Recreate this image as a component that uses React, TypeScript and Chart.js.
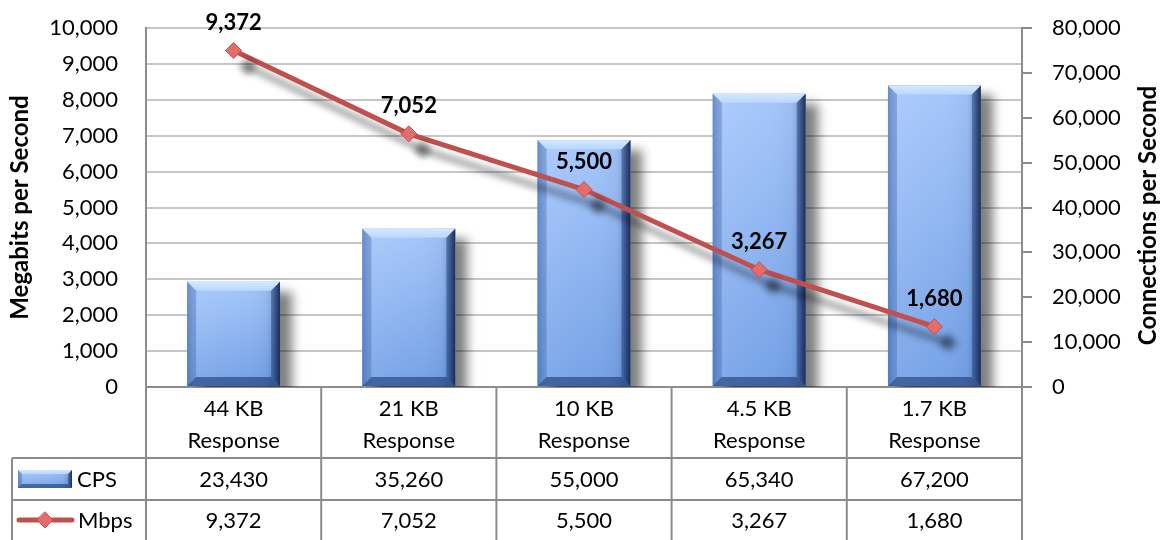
import React, { useEffect, useRef } from 'react';
import { Chart, registerables } from 'chart.js';

Chart.register(...registerables);

const categories: string[][] = [
  ['44 KB', 'Response'],
  ['21 KB', 'Response'],
  ['10 KB', 'Response'],
  ['4.5 KB', 'Response'],
  ['1.7 KB', 'Response'],
];
const cpsValues = [23430, 35260, 55000, 65340, 67200];
const mbpsValues = [9372, 7052, 5500, 3267, 1680];
const seriesNames = ['CPS', 'Mbps'];
const leftAxisTitle = 'Megabits per Second';
const rightAxisTitle = 'Connections per Second';
const leftMax = 10000;
const leftStep = 1000;
const rightMax = 80000;
const rightStep = 10000;

const FONT = 'Lato, "Open Sans", sans-serif';
const fmt = (v: number) => v.toLocaleString('en-US');

function drawBevelBar(ctx: CanvasRenderingContext2D, x0: number, y0: number, x1: number, y1: number, bMax = 9) {
  const w = x1 - x0;
  const h = y1 - y0;
  if (w <= 0 || h <= 0) return;
  const b = Math.min(bMax, w / 4, h / 4);
  let g = ctx.createLinearGradient(0, y0, 0, y1);
  g.addColorStop(0, '#a6c7fb');
  g.addColorStop(1, '#74a1e6');
  ctx.fillStyle = g;
  ctx.fillRect(x0, y0, w, h);
  g = ctx.createLinearGradient(x0, 0, x1, 0);
  g.addColorStop(0, 'rgba(40,80,150,0.30)');
  g.addColorStop(0.12, 'rgba(255,255,255,0.08)');
  g.addColorStop(0.5, 'rgba(255,255,255,0.02)');
  g.addColorStop(0.85, 'rgba(20,50,110,0.06)');
  g.addColorStop(1, 'rgba(20,40,90,0.35)');
  ctx.fillStyle = g;
  ctx.fillRect(x0, y0, w, h);
  // top bevel
  ctx.beginPath();
  ctx.moveTo(x0, y0);
  ctx.lineTo(x1, y0);
  ctx.lineTo(x1 - b, y0 + b);
  ctx.lineTo(x0 + b, y0 + b);
  ctx.closePath();
  g = ctx.createLinearGradient(0, y0, 0, y0 + b);
  g.addColorStop(0, '#d6e8ff');
  g.addColorStop(1, '#b8d6ff');
  ctx.fillStyle = g;
  ctx.fill();
  // left bevel
  ctx.beginPath();
  ctx.moveTo(x0, y0);
  ctx.lineTo(x0 + b, y0 + b);
  ctx.lineTo(x0 + b, y1 - b);
  ctx.lineTo(x0, y1);
  ctx.closePath();
  ctx.fillStyle = 'rgba(50,90,165,0.32)';
  ctx.fill();
  // right bevel
  ctx.beginPath();
  ctx.moveTo(x1, y0);
  ctx.lineTo(x1 - b, y0 + b);
  ctx.lineTo(x1 - b, y1 - b);
  ctx.lineTo(x1, y1);
  ctx.closePath();
  g = ctx.createLinearGradient(x1 - b, 0, x1, 0);
  g.addColorStop(0, 'rgba(30,60,120,0.45)');
  g.addColorStop(1, 'rgba(15,30,70,0.85)');
  ctx.fillStyle = g;
  ctx.fill();
  // bottom bevel
  ctx.beginPath();
  ctx.moveTo(x0, y1);
  ctx.lineTo(x0 + b, y1 - b);
  ctx.lineTo(x1 - b, y1 - b);
  ctx.lineTo(x1, y1);
  ctx.closePath();
  ctx.fillStyle = 'rgba(20,45,105,0.55)';
  ctx.fill();
}

const effectsPlugin = {
  id: 'effects',
  beforeDatasetDraw(chart: any, args: any) {
    const ctx = chart.ctx;
    ctx.save();
    if (args.meta.type === 'bar') {
      ctx.shadowColor = 'rgba(0,0,0,0.5)';
      ctx.shadowBlur = 10;
      ctx.shadowOffsetX = 12;
      ctx.shadowOffsetY = 10;
    } else {
      ctx.shadowColor = 'rgba(0,0,0,0.45)';
      ctx.shadowBlur = 7;
      ctx.shadowOffsetX = 14;
      ctx.shadowOffsetY = 16;
    }
  },
  afterDatasetDraw(chart: any, args: any) {
    const ctx = chart.ctx;
    ctx.restore();
    if (args.meta.type === 'bar') {
      ctx.save();
      args.meta.data.forEach((el: any) => {
        const p = el.getProps(['x', 'y', 'width', 'base'], true);
        drawBevelBar(ctx, p.x - p.width / 2, p.y, p.x + p.width / 2, p.base);
      });
      ctx.restore();
    }
  },
  afterDatasetsDraw(chart: any) {
    const ctx = chart.ctx;
    const meta = chart.getDatasetMeta(1);
    ctx.save();
    ctx.font = `bold 22px ${FONT}`;
    ctx.fillStyle = '#000';
    ctx.textAlign = 'center';
    ctx.textBaseline = 'alphabetic';
    meta.data.forEach((pt: any, i: number) => {
      ctx.fillText(fmt(mbpsValues[i]), pt.x, pt.y - 21);
    });
    ctx.restore();
  },
};

const tablePlugin = {
  id: 'dataTable',
  afterDraw(chart: any) {
    const { ctx, chartArea, scales } = chart;
    const xs = scales.x;
    const n = categories.length;
    const cw = (chartArea.right - chartArea.left) / n;
    const bounds: number[] = [];
    for (let i = 0; i < n; i++) bounds.push(xs.getPixelForValue(i) - cw / 2);
    bounds.push(xs.getPixelForValue(n - 1) + cw / 2);
    const top = chartArea.bottom;
    const r1 = 458;
    const r2 = 500;
    const bottom = chart.height;
    const legendLeft = 12;
    ctx.save();
    ctx.strokeStyle = '#8c8c8c';
    ctx.lineWidth = 2;
    ctx.beginPath();
    bounds.forEach((bx) => {
      ctx.moveTo(bx, top);
      ctx.lineTo(bx, bottom);
    });
    ctx.moveTo(legendLeft, r1);
    ctx.lineTo(bounds[n], r1);
    ctx.moveTo(legendLeft, r2);
    ctx.lineTo(bounds[n], r2);
    ctx.moveTo(legendLeft, r1);
    ctx.lineTo(legendLeft, bottom);
    ctx.stroke();

    ctx.font = `22px ${FONT}`;
    ctx.fillStyle = '#000';
    ctx.textAlign = 'center';
    ctx.textBaseline = 'middle';
    for (let i = 0; i < n; i++) {
      const cx = xs.getPixelForValue(i);
      ctx.fillText(fmt(cpsValues[i]), cx, (r1 + r2) / 2 + 1);
      ctx.fillText(fmt(mbpsValues[i]), cx, (r2 + bottom) / 2 + 1);
    }
    // legend keys
    drawBevelBar(ctx, 18, 470, 72, 488, 4);
    ctx.textAlign = 'left';
    ctx.fillStyle = '#000';
    ctx.fillText(seriesNames[0], 77, (r1 + r2) / 2 + 1);
    ctx.strokeStyle = '#c0504d';
    ctx.lineWidth = 5;
    ctx.lineCap = 'round';
    ctx.beginPath();
    ctx.moveTo(19, 520);
    ctx.lineTo(72, 520);
    ctx.stroke();
    ctx.beginPath();
    ctx.moveTo(45, 512);
    ctx.lineTo(53, 520);
    ctx.lineTo(45, 528);
    ctx.lineTo(37, 520);
    ctx.closePath();
    ctx.fillStyle = '#e46c6a';
    ctx.fill();
    ctx.lineWidth = 1;
    ctx.stroke();
    ctx.fillStyle = '#000';
    ctx.fillText(seriesNames[1], 78, (r2 + bottom) / 2 + 1);

    // right axis title, reading bottom-to-top
    ctx.save();
    ctx.translate(1148, (chartArea.top + chartArea.bottom) / 2 + 8);
    ctx.rotate(-Math.PI / 2);
    ctx.font = `bold 24px ${FONT}`;
    ctx.textAlign = 'center';
    ctx.textBaseline = 'middle';
    ctx.fillStyle = '#000';
    ctx.fillText(rightAxisTitle, 0, 0);
    ctx.restore();
    ctx.restore();
  },
};

export default function App() {
  const ref = useRef<HTMLCanvasElement>(null);
  useEffect(() => {
    if (!ref.current) return;
    const chart = new Chart(ref.current, {
      type: 'bar',
      data: {
        labels: categories,
        datasets: [
          {
            type: 'bar',
            label: seriesNames[0],
            data: cpsValues,
            yAxisID: 'y1',
            backgroundColor: '#7fa8e8',
            barPercentage: 0.53,
            categoryPercentage: 1,
            order: 1,
          } as any,
          {
            type: 'line',
            label: seriesNames[1],
            data: mbpsValues,
            yAxisID: 'y',
            borderColor: '#c0504d',
            borderWidth: 5,
            pointStyle: 'rectRot',
            pointRadius: 8,
            pointBackgroundColor: '#e46c6a',
            pointBorderColor: '#c0504d',
            pointBorderWidth: 1,
            tension: 0,
            order: 0,
          } as any,
        ],
      },
      options: {
        responsive: false,
        animation: false,
        layout: { padding: { left: 8, right: 5, top: 28, bottom: 0 } },
        plugins: { legend: { display: false }, tooltip: { enabled: false } },
        scales: {
          x: {
            offset: true,
            grid: { display: false, drawTicks: false },
            border: { display: true, color: '#8c8c8c', width: 2 },
            ticks: {
              color: '#000',
              font: { family: FONT, size: 22, lineHeight: 1.45 },
              padding: 6,
              maxRotation: 0,
              autoSkip: false,
            },
            afterFit: (s: any) => {
              s.height = 153;
            },
          },
          y: {
            position: 'left',
            min: 0,
            max: leftMax,
            ticks: {
              stepSize: leftStep,
              color: '#000',
              padding: 4,
              font: { family: FONT, size: 22, lineHeight: 0.6 },
              callback: (v: any) => fmt(Number(v)),
            },
            grid: { color: '#c6c6c6', lineWidth: 2, drawTicks: true, tickLength: 24, tickColor: 'rgba(0,0,0,0)' },
            border: { display: true, color: '#8c8c8c', width: 2 },
            title: {
              display: true,
              text: leftAxisTitle,
              color: '#000',
              font: { family: FONT, size: 24, weight: 'bold', lineHeight: 1 },
              padding: { top: 0, bottom: 0 },
            },
            afterFit: (s: any) => {
              s.width = 138;
            },
          },
          y1: {
            position: 'right',
            min: 0,
            max: rightMax,
            ticks: {
              stepSize: rightStep,
              color: '#000',
              padding: 20,
              font: { family: FONT, size: 22, lineHeight: 0.6 },
              callback: (v: any) => fmt(Number(v)),
            },
            grid: { drawOnChartArea: false, drawTicks: true, tickLength: 10, color: '#8c8c8c', lineWidth: 2 },
            border: { display: true, color: '#8c8c8c', width: 2 },
            title: { display: false },
            afterFit: (s: any) => {
              s.width = 138;
            },
          },
        },
      } as any,
      plugins: [effectsPlugin, tablePlugin],
    });
    return () => chart.destroy();
  }, []);
  return (
    <div style={{ position: 'absolute', left: 0, top: 0, width: 1165, height: 540, background: '#fff' }}>
      <canvas ref={ref} width={1165} height={540} style={{ width: 1165, height: 540, display: 'block' }} />
    </div>
  );
}
